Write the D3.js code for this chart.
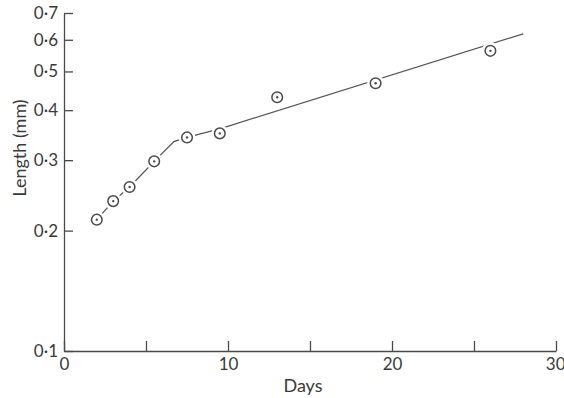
<!DOCTYPE html>
<html>
<head>
<meta charset="utf-8">
<script src="https://cdn.jsdelivr.net/npm/d3@7"></script>
<style>
  body { margin: 0; background: #fff; }
  svg text { font-family: Lato, "DejaVu Sans", sans-serif; fill: #3a3a3a; }
</style>
</head>
<body>
<figure id="growth" style="margin:0"></figure>
<script>
// measured points
const days = [2, 3, 4, 5.5, 7.5, 9.5, 13, 19, 26];
const lengths = [0.213, 0.237, 0.257, 0.298, 0.342, 0.350, 0.431, 0.467, 0.563];

// drawn growth line
const lineDays = [2, 3, 4, 5.5, 6.7, 7.5, 9.55, 28];
const lineLengths = [0.213, 0.237, 0.257, 0.298, 0.334, 0.342, 0.360, 0.621];

const xTicks = [0, 5, 10, 15, 20, 25, 30];
const xLabels = ["0", "", "10", "", "20", "", "30"];
const yTicks = [0.1, 0.2, 0.3, 0.4, 0.5, 0.6, 0.7];
const yLabels = ["0·1", "0·2", "0·3", "0·4", "0·5", "0·6", "0·7"];

const width = 564, height = 398;
const ink = "#4a4a4a";

const svg = d3.select("figure#growth")
  .append("svg")
  .attr("width", width)
  .attr("height", height);

const x = d3.scaleLinear()
  .domain([0, 30])
  .range([64, 556]);

const y = d3.scaleLog()
  .domain([0.1, 0.7])
  .range([351, 13]);

// X axis
const xAxis = svg.append("g")
  .attr("transform", "translate(0," + y(0.1) + ")")
  .call(d3.axisBottom(x)
    .tickValues(xTicks)
    .tickFormat((d, i) => xLabels[i])
    .tickSize(-10)
    .tickSizeOuter(0)
    .tickPadding(7));

// keep the last label inside the picture
xAxis.selectAll(".tick text")
  .filter(d => d === 30)
  .attr("text-anchor", "end")
  .attr("dx", "9");

// Y axis
const yAxis = svg.append("g")
  .attr("transform", "translate(" + x(0) + ",0)")
  .call(d3.axisLeft(y)
    .tickValues(yTicks)
    .tickFormat((d, i) => yLabels[i])
    .tickSize(-9)
    .tickSizeOuter(0)
    .tickPadding(6));

svg.selectAll(".domain, .tick line")
  .attr("stroke", ink)
  .attr("stroke-width", 1.3);
svg.selectAll(".tick text")
  .attr("fill", "#3a3a3a")
  .style("font-size", "17px");

// Line
const line = d3.line()
  .x((d, i) => x(lineDays[i]))
  .y((d, i) => y(lineLengths[i]));

svg.append("path")
  .datum(lineDays)
  .attr("d", line)
  .attr("fill", "none")
  .attr("stroke", "#555")
  .attr("stroke-width", 1.3);

// Add dots
const dots = svg.append("g");
dots.selectAll("circle.mask")
  .data(days)
  .enter()
  .append("circle")
  .attr("class", "mask")
  .attr("cx", d => x(d))
  .attr("cy", (d, i) => y(lengths[i]))
  .attr("r", 8.5)
  .attr("fill", "#fff");

dots.selectAll("circle.ring")
  .data(days)
  .enter()
  .append("circle")
  .attr("class", "ring")
  .attr("cx", d => x(d))
  .attr("cy", (d, i) => y(lengths[i]))
  .attr("r", 5.3)
  .attr("fill", "#fff")
  .attr("stroke", ink)
  .attr("stroke-width", 1.5);

dots.selectAll("circle.centre")
  .data(days)
  .enter()
  .append("circle")
  .attr("class", "centre")
  .attr("cx", d => x(d))
  .attr("cy", (d, i) => y(lengths[i]))
  .attr("r", 1.2)
  .attr("fill", ink);

// Labels
svg.append("text")
  .attr("text-anchor", "middle")
  .attr("x", 303)
  .attr("y", 392)
  .style("font-size", "18px")
  .text("Days");

svg.append("text")
  .attr("text-anchor", "middle")
  .attr("transform", "translate(26,148) rotate(-90)")
  .style("font-size", "18px")
  .text("Length (mm)");
</script>
</body>
</html>
